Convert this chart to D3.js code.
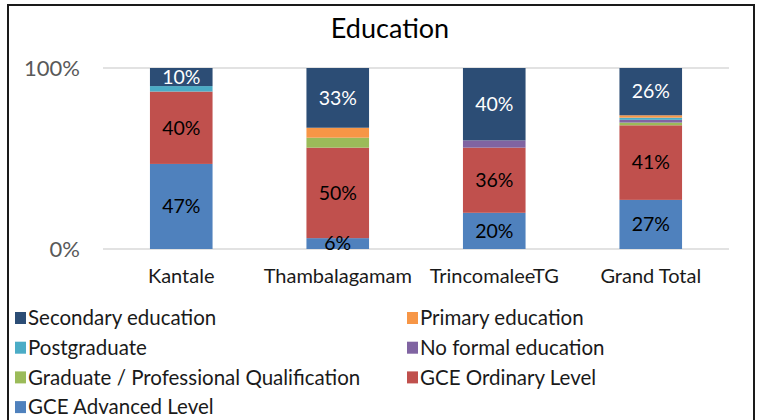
<!DOCTYPE html>
<html>
<head>
<meta charset="utf-8">
<script src="https://cdn.jsdelivr.net/npm/d3@7"></script>
<style>
  body { margin: 0; background: #fff; }
  svg { font-family: Lato, "Open Sans", sans-serif; }
</style>
</head>
<body>
<script>
// categories along x
var sites = ["Kantale", "Thambalagamam", "TrincomaleeTG", "Grand Total"];

// series, bottom of the stack first (percent of each bar)
var gceAdvanced = [47, 6, 20, 27];
var gceOrdinary = [40, 50, 36, 41];
var graduate = [0, 5.5, 0, 1.5];
var noFormal = [0, 0, 4, 1.5];
var postgraduate = [3, 0, 0, 1.2];
var primary = [0, 5.5, 0, 1.3];
var secondary = [10, 33, 40, 26];

var seriesNames = ["GCE Advanced Level", "GCE Ordinary Level", "Graduate / Professional Qualification",
    "No formal education", "Postgraduate", "Primary education", "Secondary education"];
var seriesVals = [gceAdvanced, gceOrdinary, graduate, noFormal, postgraduate, primary, secondary];
var seriesColors = ["#4f81bd", "#c0504d", "#9bbb59", "#8064a2", "#4bacc6", "#f79646", "#2c4d75"];
var labelled = { "GCE Advanced Level": "#000", "GCE Ordinary Level": "#000", "Secondary education": "#fff" };

// legend order as in the picture (row by row, two columns)
var legendOrder = ["Secondary education", "Primary education", "Postgraduate", "No formal education",
    "Graduate / Professional Qualification", "GCE Ordinary Level", "GCE Advanced Level"];

var yTicks = [0, 1];

var width = 760, height = 420;
var margin = { top: 68, left: 103, right: 31, bottom: 171 };

// build rows for d3.stack
var rows = sites.map(function(s, i) {
    var r = { site: s };
    seriesNames.forEach(function(n, j) { r[n] = seriesVals[j][i]; });
    return r;
});

var stack = d3.stack().keys(seriesNames).offset(d3.stackOffsetExpand);
var stacked = stack(rows);

var x = d3.scaleBand()
    .domain(sites)
    .range([margin.left, width - margin.right])
    .paddingInner(0.6)
    .paddingOuter(0.3);

var y = d3.scaleLinear()
    .domain([0, 1])
    .range([height - margin.bottom, margin.top]);

var color = d3.scaleOrdinal().domain(seriesNames).range(seriesColors);

var svg = d3.select("body").append("svg")
    .attr("width", width)
    .attr("height", height);

svg.append("rect") //chart frame
    .attr("x", 8).attr("y", 5)
    .attr("width", 746).attr("height", 430)
    .attr("fill", "#fff")
    .attr("stroke", "#1a1a1a")
    .attr("stroke-width", 2);

svg.append("text")
    .attr("x", 390).attr("y", 38)
    .attr("text-anchor", "middle")
    .attr("font-size", 27)
    .attr("fill", "#000")
    .text("Education");

// gridlines + y labels
svg.append("g")
    .selectAll("line")
    .data(yTicks)
    .join("line")
    .attr("x1", margin.left).attr("x2", width - margin.right)
    .attr("y1", d => y(d)).attr("y2", d => y(d))
    .attr("stroke", "#d9d9d9")
    .attr("stroke-width", 1.5);

svg.append("g")
    .selectAll("text")
    .data(yTicks)
    .join("text")
    .attr("x", 80)
    .attr("y", d => y(d))
    .attr("dy", "0.35em")
    .attr("text-anchor", "end")
    .attr("font-size", 22)
    .attr("fill", "#595959")
    .text(d3.format(".0%"));

// bars
var layers = svg.append("g")
    .selectAll("g")
    .data(stacked)
    .join("g")
    .attr("fill", d => color(d.key));

layers.selectAll("rect")
    .data(d => d)
    .join("rect")
    .attr("x", d => x(d.data.site))
    .attr("width", x.bandwidth())
    .attr("y", d => y(d[1]))
    .attr("height", d => y(d[0]) - y(d[1]));

// value labels for the three big series
var labLayers = svg.append("g")
    .selectAll("g")
    .data(stacked.filter(d => labelled[d.key]))
    .join("g")
    .attr("fill", d => labelled[d.key]);

labLayers.selectAll("text")
    .data(d => d)
    .join("text")
    .attr("x", d => x(d.data.site) + x.bandwidth() / 2)
    .attr("y", d => (y(d[0]) + y(d[1])) / 2)
    .attr("dy", "0.35em")
    .attr("text-anchor", "middle")
    .attr("font-size", 19.5)
    .text(d => Math.round((d[1] - d[0]) * 100) + "%");

// category labels
svg.append("g")
    .selectAll("text")
    .data(sites)
    .join("text")
    .attr("x", d => x(d) + x.bandwidth() / 2)
    .attr("y", 276)
    .attr("dy", "0.35em")
    .attr("text-anchor", "middle")
    .attr("font-size", 20)
    .attr("fill", "#1a1a1a")
    .text(d => d);

// legend
var legend = svg.append("g")
    .selectAll("g")
    .data(legendOrder)
    .join("g")
    .attr("transform", (d, i) => "translate(" + (i % 2 ? 407 : 15) + "," + (318 + Math.floor(i / 2) * 29.7) + ")");

legend.append("rect")
    .attr("x", 0).attr("y", -6)
    .attr("width", 11).attr("height", 12)
    .attr("fill", d => color(d));

legend.append("text")
    .attr("x", 13)
    .attr("dy", "0.35em")
    .attr("font-size", 20.5)
    .attr("fill", "#1a1a1a")
    .text(d => d);
</script>
</body>
</html>
